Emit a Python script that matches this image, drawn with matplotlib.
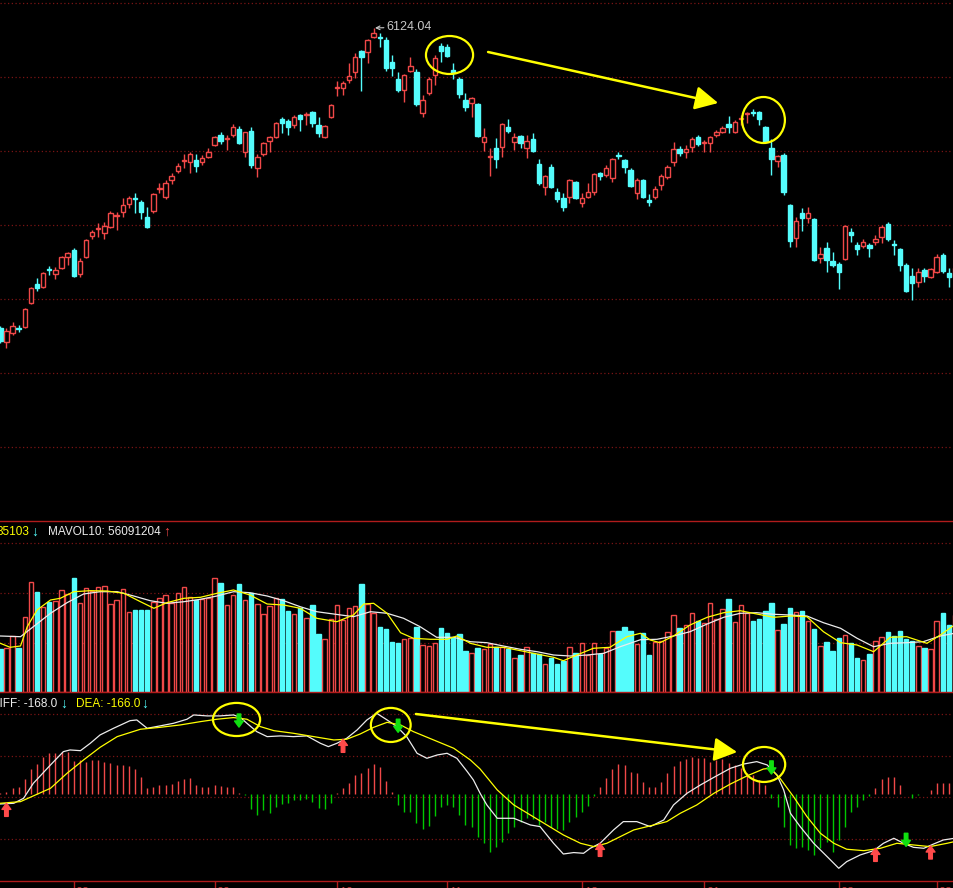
"""Candlestick chart with volume and MACD panels (dark trading terminal look)."""

import matplotlib

matplotlib.use("Agg")
import matplotlib.pyplot as plt
from matplotlib.patches import Ellipse
from matplotlib.transforms import blended_transform_factory

# ---------------------------------------------------------------- data
opens = [3724, 3612, 3684, 3724, 3732, 3924, 4076, 4052, 4196, 4156,
         4204, 4292, 4348, 4156, 4292, 4460, 4516, 4484, 4532, 4620,
         4652, 4716, 4764, 4732, 4612, 4660, 4836, 4772, 4908, 4980,
         5060, 5052, 5068, 5052, 5092, 5188, 5268, 5236, 5268, 5316,
         5132, 5300, 5004, 5116, 5220, 5252, 5396, 5380, 5348, 5428,
         5428, 5452, 5348, 5252, 5412, 5644, 5644, 5708, 5772, 5940,
         5932, 6052, 6052, 6028, 5852, 5716, 5628, 5780, 5772, 5444,
         5604, 5748, 5980, 5972, 5788, 5716, 5548, 5524, 5516, 5212,
         5092, 5164, 5172, 5332, 5212, 5260, 5164, 5236, 5036, 4852,
         5012, 4812, 4764, 4772, 4892, 4724, 4772, 4812, 4964, 4948,
         4924, 5108, 5068, 4988, 4804, 4908, 4748, 4772, 4868, 4932,
         5052, 5156, 5132, 5172, 5252, 5204, 5204, 5268, 5292, 5356,
         5292, 5396, 5436, 5452, 5452, 5332, 5164, 5060, 5108, 4708,
         4444, 4644, 4604, 4596, 4284, 4364, 4260, 4236, 4276, 4492,
         4388, 4380, 4388, 4412, 4452, 4556, 4396, 4356, 4228, 4140,
         4092, 4188, 4132, 4172, 4308, 4164, 4132]
highs = [3740, 3724, 3772, 3748, 3884, 4052, 4124, 4172, 4220, 4212,
         4300, 4332, 4364, 4284, 4436, 4508, 4564, 4572, 4660, 4652,
         4764, 4780, 4804, 4748, 4692, 4804, 4884, 4908, 4964, 5044,
         5116, 5132, 5116, 5108, 5164, 5260, 5292, 5268, 5356, 5340,
         5292, 5332, 5116, 5212, 5260, 5372, 5412, 5396, 5428, 5436,
         5452, 5460, 5412, 5348, 5516, 5700, 5700, 5844, 5924, 5948,
         6036, 6124.04, 6084, 6052, 5908, 5772, 5756, 5892, 5796, 5588,
         5732, 5908, 6004, 5996, 5844, 5732, 5604, 5572, 5524, 5324,
         5164, 5244, 5364, 5396, 5284, 5268, 5268, 5284, 5076, 4948,
         5036, 4844, 4804, 4916, 4900, 4804, 4884, 4964, 4972, 5028,
         5084, 5132, 5076, 5004, 4924, 4916, 4796, 4860, 4956, 5028,
         5212, 5180, 5188, 5252, 5268, 5228, 5260, 5308, 5340, 5420,
         5388, 5428, 5452, 5476, 5460, 5340, 5236, 5108, 5124, 4716,
         4612, 4684, 4692, 4604, 4372, 4412, 4332, 4252, 4548, 4524,
         4412, 4436, 4404, 4468, 4548, 4572, 4428, 4364, 4244, 4204,
         4204, 4204, 4204, 4316, 4324, 4204, 4228]
lows = [3604, 3564, 3668, 3692, 3724, 3916, 4020, 4044, 4148, 4116,
        4196, 4228, 4132, 4132, 4284, 4436, 4452, 4436, 4524, 4508,
        4612, 4684, 4644, 4596, 4524, 4644, 4804, 4756, 4876, 4964,
        5004, 4964, 4972, 5028, 5084, 5180, 5196, 5148, 5252, 5196,
        5092, 5004, 4932, 5100, 5132, 5244, 5284, 5268, 5324, 5300,
        5348, 5332, 5252, 5244, 5404, 5580, 5588, 5684, 5724, 5620,
        5844, 6044, 5972, 5780, 5740, 5612, 5532, 5772, 5500, 5412,
        5588, 5668, 5852, 5892, 5716, 5564, 5460, 5412, 5252, 5140,
        4940, 5004, 5092, 5284, 5148, 5164, 5084, 5132, 4868, 4788,
        4844, 4732, 4660, 4724, 4756, 4692, 4764, 4788, 4908, 4932,
        4892, 5076, 4964, 4852, 4756, 4764, 4700, 4756, 4828, 4916,
        5020, 5100, 5084, 5132, 5180, 5132, 5132, 5252, 5284, 5284,
        5284, 5348, 5364, 5420, 5348, 5204, 4948, 5012, 4788, 4372,
        4372, 4500, 4564, 4260, 4244, 4172, 4212, 4036, 4268, 4412,
        4308, 4364, 4292, 4388, 4404, 4420, 4308, 4180, 4012, 3948,
        4052, 4092, 4124, 4164, 4164, 4052, 4108]
closes = [3620, 3700, 3740, 3716, 3876, 4044, 4044, 4164, 4188, 4188,
          4292, 4324, 4140, 4260, 4428, 4492, 4524, 4540, 4644, 4628,
          4708, 4764, 4756, 4652, 4532, 4796, 4844, 4884, 4940, 5020,
          5068, 5116, 5020, 5084, 5132, 5252, 5220, 5244, 5332, 5204,
          5292, 5028, 5092, 5204, 5252, 5364, 5364, 5332, 5412, 5396,
          5436, 5364, 5284, 5340, 5508, 5652, 5684, 5740, 5892, 5892,
          6028, 6084, 6044, 5804, 5804, 5628, 5748, 5820, 5516, 5548,
          5716, 5884, 5940, 5900, 5764, 5596, 5492, 5564, 5260, 5252,
          5100, 5076, 5356, 5300, 5252, 5204, 5220, 5140, 4884, 4940,
          4852, 4756, 4692, 4908, 4764, 4764, 4812, 4956, 4940, 5004,
          5076, 5100, 5012, 4860, 4908, 4772, 4732, 4836, 4940, 5012,
          5156, 5124, 5156, 5236, 5196, 5212, 5252, 5292, 5324, 5332,
          5372, 5404, 5444, 5444, 5396, 5212, 5076, 5100, 4812, 4420,
          4580, 4604, 4644, 4268, 4316, 4268, 4228, 4172, 4540, 4468,
          4356, 4412, 4364, 4436, 4532, 4436, 4388, 4228, 4020, 4084,
          4172, 4140, 4196, 4292, 4180, 4132, 4204]

# volume, millions of shares (approx.)
volumes = [43, 44, 56, 44, 75, 110, 100, 85, 90, 91,
           102, 98, 114, 89, 104, 101, 105, 106, 88, 92,
           103, 80, 82, 82, 82, 90, 94, 97, 89, 99,
           105, 95, 92, 93, 94, 114, 109, 87, 97, 108,
           92, 99, 88, 78, 86, 94, 93, 81, 78, 84,
           74, 87, 58, 53, 73, 87, 72, 84, 86, 108,
           88, 79, 65, 63, 50, 49, 53, 54, 65, 47,
           46, 49, 64, 59, 54, 58, 41, 39, 44, 43,
           48, 45, 45, 43, 34, 37, 45, 39, 38, 28,
           34, 28, 31, 45, 39, 49, 37, 49, 38, 44,
           61, 61, 65, 61, 48, 59, 37, 50, 51, 60,
           77, 64, 67, 79, 71, 69, 89, 73, 83, 93,
           70, 87, 79, 71, 73, 81, 89, 62, 68, 84,
           80, 81, 71, 63, 46, 50, 41, 54, 57, 49,
           34, 32, 38, 51, 55, 60, 56, 61, 53, 51,
           46, 44, 43, 71, 79, 67, 77]

vol_ma5_idx = [0, 1.6, 3.3, 4.4, 6.0, 8.2, 9.8, 12.0, 14.7, 17.4,
               20.2, 22.9, 25.1, 27.2, 30.0, 32.7, 35.4, 38.1, 40.8, 43.6,
               46.3, 49.0, 51.7, 55.0, 57.7, 59.4, 61.0, 63.2, 65.4, 67.5,
               70.3, 73.0, 74.6, 76.8, 79.5, 82.2, 85.0, 87.7, 90.4, 92.0,
               94.2, 96.9, 99.6, 102.4, 104.6, 106.2, 107.8, 110.0, 112.7, 115.5,
               118.2, 120.9, 123.6, 126.4, 129.1, 131.8, 134.5, 137.3, 140.0, 142.7,
               145.4, 148.1, 151.4, 153.6, 155.9]
vol_ma5 = [48.7, 44.7, 46, 65.3, 82, 92, 93.7, 100.3, 101.3, 101,
           98.7, 90.3, 83.7, 89.3, 93.7, 94.7, 98.7, 102, 97, 88,
           87, 83.7, 73.7, 70.3, 77, 88, 88.7, 78.7, 59.3, 53.7,
           52.7, 52.7, 56, 48.7, 44.7, 44.7, 41.3, 38, 34.7, 31.3,
           37, 43.7, 44.7, 55.3, 58.7, 52, 49.3, 56, 67, 74.7,
           79.3, 81.3, 78, 74.7, 76, 75.3, 60.3, 49.3, 47, 40.3,
           54.7, 55.3, 48.7, 57, 67]
vol_ma10_idx = [0, 3.3, 5.4, 8.2, 10.9, 13.6, 16.3, 19.1, 21.8, 24.5,
                27.2, 30.0, 32.7, 35.4, 38.1, 40.8, 43.6, 46.3, 49.0, 51.7,
                57.7, 60.5, 63.2, 65.9, 68.6, 71.3, 74.1, 76.8, 79.5, 82.2,
                85.0, 87.7, 90.4, 93.1, 95.9, 98.6, 101.3, 104.6, 107.3, 110.0,
                112.7, 115.5, 118.2, 120.9, 123.6, 126.4, 129.1, 131.8, 134.5, 137.3,
                140.0, 142.7, 145.4, 148.1, 150.8, 153.6, 155.9]
vol_ma10 = [56, 55.3, 65.3, 78.7, 89.3, 98, 100.3, 100.3, 96, 91.3,
            88.7, 90.3, 92.7, 96, 100.3, 99.3, 96, 91.3, 85.3, 80.3,
            75.3, 80.3, 78.7, 73.7, 65.3, 54.7, 54.7, 50.3, 49.3, 46,
            42.7, 40.3, 37, 36, 37, 38.7, 45.3, 52.3, 52.7, 56,
            60.3, 68, 74.7, 78.7, 79.3, 77.7, 77, 76, 69.3, 63.7,
            53.7, 45.3, 48.7, 49.3, 50.3, 56, 58.7]

dif_idx = [0, 2.2, 3.8, 5.4, 8.2, 10.3, 11.4, 13.1, 14.7, 16.3,
           18.5, 21.2, 22.3, 24.0, 26.1, 28.3, 30.5, 31.6, 33.8, 35.9,
           38.1, 39.2, 40.3, 41.9, 43.6, 45.8, 47.9, 50.1, 52.3, 53.6,
           55.0, 56.6, 58.3, 59.9, 61.5, 63.2, 64.8, 66.4, 68.1, 69.7,
           71.4, 73.0, 74.6, 76.3, 77.3, 78.4, 79.5, 81.2, 83.9, 86.6,
           88.2, 90.4, 92.0, 93.7, 95.3, 96.4, 98.0, 100.2, 101.8, 104.0,
           106.2, 108.4, 110.0, 112.2, 114.4, 116.6, 119.3, 121.5, 123.6, 125.3,
           126.9, 128.0, 129.1, 130.7, 132.9, 135.1, 137.0, 138.3, 140.5, 142.7,
           144.3, 146.0, 147.6, 149.2, 150.9, 152.5, 154.1, 155.9]
dif = [-42, -39, -18, 45, 122, 178, 185, 182, 213, 248,
       276, 308, 311, 276, 286, 297, 314, 332, 328, 328,
       332, 322, 297, 262, 241, 244, 241, 244, 213, 199,
       213, 234, 269, 311, 339, 311, 283, 241, 171, 150,
       164, 171, 150, 94, 59, 3, -46, -102, -102, -130,
       -137, -207, -252, -246, -249, -228, -207, -151, -116, -116,
       -137, -109, -46, 3, 38, 70, 108, 126, 136, 122,
       80, 17, -81, -137, -207, -263, -312, -284, -256, -238,
       -207, -186, -207, -224, -228, -210, -193, -186]
dea_idx = [0, 3.3, 5.4, 8.2, 10.9, 13.6, 16.3, 19.1, 22.9, 26.1,
           29.4, 32.7, 35.4, 38.1, 40.3, 42.5, 44.7, 47.9, 51.2, 54.5,
           56.6, 58.8, 61.0, 63.2, 65.4, 67.5, 70.8, 74.1, 76.8, 78.4,
           81.2, 83.9, 86.6, 89.3, 92.0, 94.8, 97.0, 99.1, 101.3, 103.5,
           106.8, 108.9, 111.1, 113.8, 116.6, 119.3, 122.0, 124.7, 125.8, 127.4,
           129.6, 131.8, 134.0, 136.2, 138.3, 141.1, 143.8, 146.5, 149.2, 151.9,
           154.7, 155.9]
dea = [-39, -32, -8, 24, 87, 143, 196, 241, 272, 280,
       290, 304, 314, 321, 314, 283, 266, 255, 241, 227,
       230, 252, 280, 301, 290, 262, 227, 192, 143, 105,
       17, -46, -88, -130, -172, -207, -221, -207, -179, -151,
       -130, -116, -81, -46, 3, 42, 76, 105, 108, 66,
       -11, -95, -165, -207, -232, -238, -228, -207, -214, -221,
       -207, -200]
macd_hist = [3, 10, 24, 31, 62, 104, 126, 154, 174, 174,
             178, 178, 140, 143, 136, 143, 143, 136, 132, 122,
             122, 118, 104, 70, 24, 31, 38, 38, 42, 56,
             62, 66, 38, 31, 31, 38, 34, 28, 28, 3,
             -4, -64, -88, -67, -78, -53, -42, -39, -25, -25,
             -22, -32, -60, -64, -39, 3, 24, 48, 80, 90,
             108, 126, 115, 56, 10, -46, -74, -74, -123, -148,
             -134, -92, -53, -46, -53, -88, -130, -137, -179, -207,
             -242, -221, -200, -165, -140, -116, -102, -106, -130, -116,
             -140, -148, -151, -116, -95, -74, -50, -8, 31, 66,
             104, 126, 122, 94, 87, 52, 28, 31, 52, 87,
             118, 140, 146, 157, 150, 150, 136, 143, 146, 132,
             122, 108, 90, 80, 59, 38, -18, -53, -140, -214,
             -228, -221, -235, -256, -228, -200, -242, -193, -137, -74,
             -53, -25, -8, 24, 62, 70, 70, 38, 0, -18,
             -4, 0, 17, 45, 48, 48, 45]

# golden / dead crosses flagged by the terminal
buy_idx = [1, 56, 98, 143, 152]
buy_val = [-39, 230, -207, -228, -218]
sell_idx = [39, 65, 126, 148]
sell_val = [336, 314, 139, -165]

month_labels = ["08", "09", "10", "11", "12", "01", "02", "03"]
month_start = [12, 35, 55, 73, 95, 115, 137, 153]

price_levels = [6324, 5732, 5140, 4548, 3956, 3364, 2772]
volume_levels = [49, 99, 149]
macd_levels = [336, 160, -13, -189]

# ---------------------------------------------------------------- style
RED = "#f04848"
CYAN = "#54fcfc"
GREEN = "#00c800"
YELLOW = "#ffff00"
WHITE = "#ececec"
GRID = "#7a1414"
FRAME = "#b01c1c"
FONT = ["Liberation Sans", "DejaVu Sans"]

W, H = 954, 888
X_RANGE = (-0.05, 155.83)


def px_box(top, bottom):
    """Axes rectangle spanning full width between two pixel rows."""
    return [0, 1 - bottom / H, 1, (bottom - top) / H]


def style_axis(ax, ylim, levels):
    ax.set_facecolor("black")
    ax.set_xlim(*X_RANGE)
    ax.set_ylim(*ylim)
    ax.set_yticks(levels)
    ax.set_xticks([])
    ax.tick_params(length=0, labelleft=False)
    ax.grid(axis="y", color=GRID, linestyle=(0, (1, 2)), linewidth=0.9)
    for spine in ax.spines.values():
        spine.set_visible(False)


def draw_candles(ax):
    xs = range(len(opens))
    up = [c >= o for o, c in zip(opens, closes)]
    colors = [RED if u else CYAN for u in up]
    ax.vlines(xs, lows, highs, colors=colors, linewidth=1, zorder=2)
    bottoms = [min(o, c) for o, c in zip(opens, closes)]
    heights = [max(abs(c - o), 2) for o, c in zip(opens, closes)]
    faces = ["black" if u else CYAN for u in up]
    ax.bar(xs, heights, 0.72, bottoms, color=faces, edgecolor=colors,
           linewidth=1, zorder=3)

    ax.annotate("6124.04", xy=(61, highs[61]), xytext=(13, 1),
                textcoords="offset pixels", va="center", ha="left",
                color="#c8c8c8", fontsize=9, family=FONT,
                arrowprops=dict(arrowstyle="->,head_length=0.3,head_width=0.15",
                                color="#c8c8c8", lw=0.8, shrinkA=0, shrinkB=1))


def draw_volume(ax):
    xs = range(len(volumes))
    up = [c >= o for o, c in zip(opens, closes)]
    edges = [RED if u else CYAN for u in up]
    faces = ["black" if u else CYAN for u in up]
    ax.bar(xs, volumes, 0.72, color=faces, edgecolor=edges, linewidth=1, zorder=2)
    ax.plot(vol_ma10_idx, vol_ma10, color=WHITE, linewidth=0.9, zorder=3)
    ax.plot(vol_ma5_idx, vol_ma5, color=YELLOW, linewidth=0.9, zorder=3)


def draw_macd(ax):
    xs = range(len(macd_hist))
    colors = [RED if v >= 0 else GREEN for v in macd_hist]
    ax.vlines(xs, 0, macd_hist, colors=colors, linewidth=1, zorder=2)
    ax.plot(dif_idx, dif, color=WHITE, linewidth=0.9, zorder=3)
    ax.plot(dea_idx, dea, color=YELLOW, linewidth=0.9, zorder=3)

    arrow = "simple,head_length=0.55,head_width=0.8,tail_width=0.32"
    drop = 55  # arrow length in MACD units (~13 px)
    for i, v in zip(buy_idx, buy_val):
        ax.annotate("", xy=(i, v), xytext=(i, v - drop),
                    arrowprops=dict(arrowstyle=arrow, color="#ff4a4a",
                                    mutation_scale=8, shrinkA=0, shrinkB=0), zorder=5)
    for i, v in zip(sell_idx, sell_val):
        ax.annotate("", xy=(i, v - drop), xytext=(i, v),
                    arrowprops=dict(arrowstyle=arrow, color="#10e010",
                                    mutation_scale=8, shrinkA=0, shrinkB=0), zorder=5)

    # month ticks and labels run off the bottom edge, as in the screenshot
    trans = blended_transform_factory(ax.transData, ax.transAxes)
    ax.vlines(month_start, -7 / 189, 0, colors=FRAME, linewidth=1,
              transform=trans, clip_on=False)
    for i, lab in zip(month_start, month_labels):
        ax.text(i + 0.35, -6 / 189, lab, transform=trans, color="#c03838",
                fontsize=9, family=FONT, ha="left", va="top", clip_on=False)


def draw_highlights(ax_price, ax_macd):
    """Yellow rings and divergence arrows drawn over the panels."""
    ring = dict(fill=False, edgecolor=YELLOW, linewidth=1.6, zorder=6, clip_on=False)
    for ax, (cx, cy, w, h) in [
        (ax_price, (73.4, 5908, 7.7, 304)),
        (ax_price, (124.7, 5388, 7.0, 368)),
        (ax_macd, (38.6, 313, 7.7, 139)),
        (ax_macd, (63.8, 290, 6.5, 143)),
        (ax_macd, (124.8, 124, 6.9, 147)),
    ]:
        ax.add_patch(Ellipse((cx, cy), w, h, **ring))

    big = dict(arrowstyle="-|>,head_length=0.7,head_width=0.36", color=YELLOW,
               lw=1.8, mutation_scale=20, shrinkA=0, shrinkB=0)
    ax_price.annotate("", xy=(117.3, 5524), xytext=(79.7, 5932),
                      arrowprops=big, annotation_clip=False, zorder=6)
    ax_macd.annotate("", xy=(120.4, 176), xytext=(67.9, 336),
                     arrowprops=big, annotation_clip=False, zorder=6)


def draw_headers(fig):
    def put(x, y, s, color, ha="left", size=8.5, weight="normal"):
        fig.text(x / W, 1 - y / H, s, color=color, fontsize=size, family=FONT,
                 ha=ha, va="center", fontweight=weight)

    put(29, 532, "35103", YELLOW, ha="right")
    put(31, 532, "↓", CYAN, size=10, weight="bold")
    put(48, 532, "MAVOL10: 56091204", WHITE)
    put(163, 532, "↑", RED, size=10, weight="bold")

    put(57, 704, "DIFF: -168.0", WHITE, ha="right")
    put(60, 704, "↓", CYAN, size=10, weight="bold")
    put(76, 704, "DEA: -166.0", YELLOW)
    put(141, 704, "↓", CYAN, size=10, weight="bold")

    for y in (521, 692, 881):
        fig.add_artist(plt.Line2D([0, 1], [1 - y / H] * 2, color=FRAME,
                                  linewidth=1, transform=fig.transFigure))


def main():
    fig = plt.figure(figsize=(W / 100, H / 100), dpi=100, facecolor="black")
    ax_price = fig.add_axes(px_box(0, 521))
    ax_vol = fig.add_axes(px_box(521, 692))
    ax_macd = fig.add_axes(px_box(692, 881))

    style_axis(ax_price, (2180, 6348), price_levels)
    style_axis(ax_vol, (0, 171), volume_levels)
    style_axis(ax_macd, (-365.4, 428.4), macd_levels)

    draw_candles(ax_price)
    draw_volume(ax_vol)
    draw_macd(ax_macd)
    draw_highlights(ax_price, ax_macd)
    draw_headers(fig)

    fig.savefig("out.png", dpi=100, facecolor="black")


if __name__ == "__main__":
    main()
